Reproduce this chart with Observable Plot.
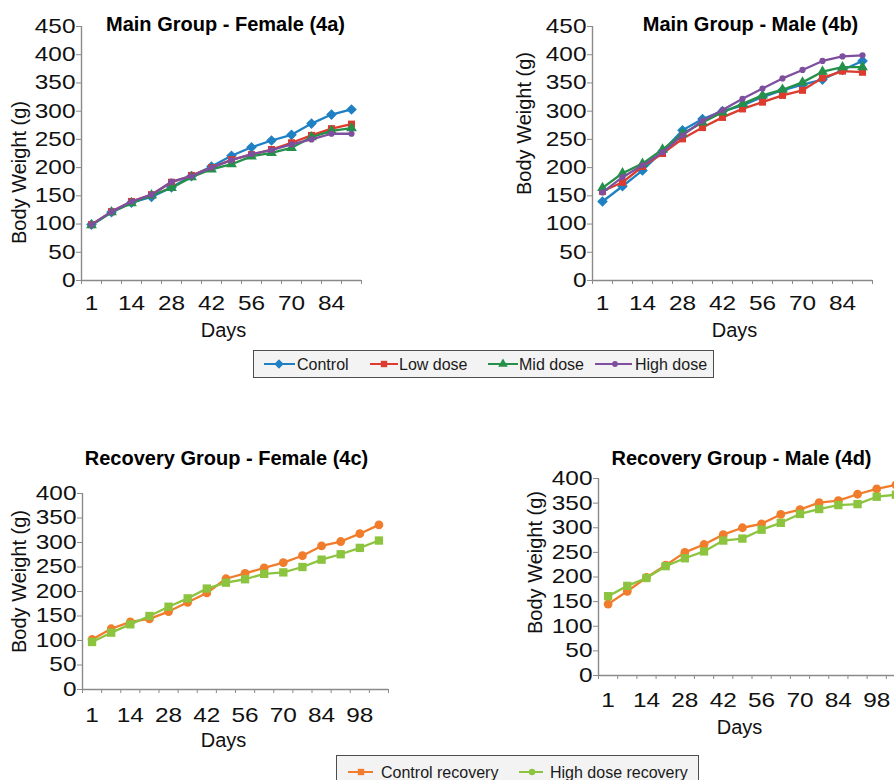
<!DOCTYPE html>
<html>
<head>
<meta charset="utf-8">
<script src="https://cdn.jsdelivr.net/npm/d3@7"></script>
<script src="https://cdn.jsdelivr.net/npm/@observablehq/plot@0.6"></script>
<style>
html, body { margin: 0; padding: 0; background: #fff; overflow: hidden; width: 894px; height: 780px; }
.panel { position: absolute; }
.panel svg { max-width: none !important; display: block; }
</style>
</head>
<body>
<div id="p4a" class="panel" style="left:0px;top:0px;width:447px;height:340px"></div>
<div id="p4b" class="panel" style="left:447px;top:0px;width:447px;height:340px"></div>
<div id="p4c" class="panel" style="left:0px;top:440px;width:447px;height:340px"></div>
<div id="p4d" class="panel" style="left:447px;top:440px;width:460px;height:340px"></div>
<div id="leg1" class="panel" style="left:253px;top:350px;"></div>
<div id="leg2" class="panel" style="left:336px;top:755px;"></div>
<script>
// ---------- data ----------
const mainDays = [1, 7, 14, 21, 28, 35, 42, 49, 56, 63, 70, 77, 84, 91];
const recoveryDays = [1, 7, 14, 21, 28, 35, 42, 49, 56, 63, 70, 77, 84, 91, 98, 105];

const mainSeries = ["Control", "Low dose", "Mid dose", "High dose"];
const recoverySeries = ["Control recovery", "High dose recovery"];

// Main group – female (4a)
const femaleControl = [99, 121, 138, 148, 165, 185, 202, 221, 236, 248, 258, 278, 294, 303];
const femaleLow     = [99, 122, 140, 152, 174, 186, 200, 214, 223, 232, 244, 257, 269, 277];
const femaleMid     = [98, 121, 137, 151, 164, 183, 197, 206, 220, 226, 235, 254, 265, 270];
const femaleHigh    = [99, 122, 140, 152, 175, 185, 200, 213, 224, 231, 241, 250, 260, 260];

// Main group – male (4b)
const maleControl = [140, 167, 195, 229, 266, 286, 300, 310, 325, 337, 347, 356, 373, 389];
const maleLow     = [158, 174, 202, 225, 251, 271, 289, 304, 316, 328, 337, 359, 371, 369];
const maleMid     = [164, 190, 207, 232, 260, 280, 298, 313, 328, 338, 351, 370, 378, 378];
const maleHigh    = [156, 183, 204, 227, 257, 283, 302, 322, 340, 358, 373, 389, 397, 399];

// Recovery group – female (4c)
const recFemaleControl = [102, 124, 138, 144, 159, 178, 197, 226, 237, 248, 259, 273, 293, 302, 318, 336];
const recFemaleHigh    = [97, 116, 133, 150, 169, 186, 206, 218, 225, 236, 239, 250, 265, 276, 289, 304];

// Recovery group – male (4d)
const recMaleControl = [145, 171, 199, 224, 250, 266, 286, 300, 308, 327, 337, 351, 355, 368, 379, 387];
const recMaleHigh    = [161, 182, 198, 222, 238, 252, 274, 278, 296, 310, 328, 338, 346, 348, 363, 367];

const yTicksMain = [0, 50, 100, 150, 200, 250, 300, 350, 400, 450];
const yTicksRecovery = [0, 50, 100, 150, 200, 250, 300, 350, 400];

// ---------- styles ----------
const FONT = "'Liberation Sans', Arial, Helvetica, sans-serif";
const AX = "#8a8a8a";
const mainColors = ["#1f80c4", "#dc3b2d", "#25904a", "#7e4f9e"];
const mainSymbols = ["diamond2", "square", "triangle", "circle"];
const mainRadii = [4.8, 4.0, 4.0, 3.1];
const recColors = ["#f07c2c", "#8cc43f"];
const recSymbols = ["circle", "square"];
const recRadii = [4.4, 4.7];

function stretchTickLabels(svg, s) {
  svg.querySelectorAll('g[aria-label$="tick label"] text').forEach(t => {
    const tr = t.getAttribute("transform");
    if (tr) t.setAttribute("transform", tr + ` scale(${s},1)`);
  });
}

function panel(el, o) {
  const n = o.days.length;
  const rows = [];
  o.series.forEach((s, k) => o.values[k].forEach((v, i) => rows.push({series: s, i, day: o.days[i], w: v})));
  const seriesMarks = [];
  o.series.forEach((s, k) => {
    const d = rows.filter(r => r.series === s);
    seriesMarks.push(Plot.line(d, {x: "i", y: "w", stroke: o.colors[k], strokeWidth: 2.3}));
    seriesMarks.push(Plot.dot(d, {x: "i", y: "w", symbol: o.symbols[k], fill: o.colors[k], stroke: "none", r: o.radii[k]}));
  });
  const chart = Plot.plot({
    width: o.width, height: o.height,
    marginTop: o.mt, marginBottom: o.mb, marginLeft: o.ml, marginRight: o.mr,
    style: {fontFamily: FONT, fontSize: "20px", color: "#111", background: "transparent", overflow: "visible"},
    x: {type: "linear", domain: [-0.5, n - 0.5], label: null},
    y: {domain: [0, o.ymax], label: null},
    marks: [
      Plot.ruleY([0], {stroke: AX, strokeWidth: 1.4}),
      Plot.ruleX([-0.5], {stroke: AX, strokeWidth: 1.4}),
      Plot.axisY(o.yticks, {tickSize: 5, tickPadding: 1, stroke: AX, fill: "#111", fontSize: 20, label: null}),
      Plot.axisX(d3.range(n + 1).map(i => i - 0.5), {tickSize: 4, stroke: AX, tickFormat: () => "", label: null}),
      Plot.axisX(d3.range(0, n, 2), {tickSize: 0, tickPadding: o.tickPad, tickFormat: i => o.days[i], fill: "#111", fontSize: 20, label: null}),
      ...seriesMarks,
      Plot.text([o.title], {frameAnchor: "top", textAnchor: "middle", lineAnchor: "middle", dx: o.titleDx, dy: o.titleDy, fontWeight: "bold", fontSize: 20, fill: "#000"}),
      Plot.text(["Body Weight (g)"], {frameAnchor: "left", textAnchor: "middle", lineAnchor: "middle", rotate: -90, dx: o.ylabDx, dy: o.ylabDy, fontSize: 20, fill: "#111"}),
      Plot.text(["Days"], {frameAnchor: "bottom", textAnchor: "middle", lineAnchor: "middle", dx: o.daysDx, dy: o.daysDy, fontSize: 20, fill: "#111"})
    ]
  });
  stretchTickLabels(chart, 1.22);
  document.getElementById(el).appendChild(chart);
}

panel("p4a", {
  days: mainDays, series: mainSeries, colors: mainColors, symbols: mainSymbols, radii: mainRadii,
  values: [femaleControl, femaleLow, femaleMid, femaleHigh], yticks: yTicksMain, ymax: 450,
  width: 447, height: 340, mt: 26, mb: 60, ml: 81, mr: 86, tickPad: 15,
  title: "Main Group - Female (4a)", titleDx: 4, titleDy: -2,
  ylabDx: -62, ylabDy: 19, daysDx: 2, daysDy: 50
});
panel("p4b", {
  days: mainDays, series: mainSeries, colors: mainColors, symbols: mainSymbols, radii: mainRadii,
  values: [maleControl, maleLow, maleMid, maleHigh], yticks: yTicksMain, ymax: 450,
  width: 447, height: 340, mt: 26, mb: 60, ml: 145, mr: 22, tickPad: 15,
  title: "Main Group - Male (4b)", titleDx: 18, titleDy: -2,
  ylabDx: -68, ylabDy: -30, daysDx: 2, daysDy: 50
});
panel("p4c", {
  days: recoveryDays, series: recoverySeries, colors: recColors, symbols: recSymbols, radii: recRadii,
  values: [recFemaleControl, recFemaleHigh], yticks: yTicksRecovery, ymax: 400,
  width: 447, height: 340, mt: 53, mb: 91, ml: 82, mr: 59, tickPad: 18,
  title: "Recovery Group - Female (4c)", titleDx: -9, titleDy: -35,
  ylabDx: -63, ylabDy: -10, daysDx: -12, daysDy: 51
});
panel("p4d", {
  days: recoveryDays, series: recoverySeries, colors: recColors, symbols: recSymbols, radii: recRadii,
  values: [recMaleControl, recMaleHigh], yticks: yTicksRecovery, ymax: 400,
  width: 460, height: 340, mt: 38, mb: 105, ml: 151, mr: 2, tickPad: 17,
  title: "Recovery Group - Male (4d)", titleDx: -10.5, titleDy: -20,
  ylabDx: -63, ylabDy: -14.5, daysDx: -12.5, daysDy: 52
});

// ---------- legends ----------
const symMap = {diamond2: d3.symbolDiamond2, square: d3.symbolSquare, triangle: d3.symbolTriangle, circle: d3.symbolCircle};
function legend(el, o) {
  const svg = d3.select(document.getElementById(el)).append("svg")
    .attr("width", o.width).attr("height", o.height)
    .style("font-family", FONT).style("overflow", "visible");
  svg.append("rect").attr("x", 0.5).attr("y", 0.5).attr("width", o.width - 1).attr("height", o.boxH)
    .attr("fill", "#f3f3f3").attr("stroke", "#4d4d4d").attr("stroke-width", 1);
  o.items.forEach(it => {
    const g = svg.append("g");
    g.append("line").attr("x1", it.l0).attr("x2", it.l1).attr("y1", o.cy).attr("y2", o.cy)
      .attr("stroke", it.color).attr("stroke-width", 2);
    g.append("path").attr("transform", `translate(${it.m},${o.cy})`)
      .attr("d", d3.symbol(symMap[it.symbol], Math.PI * it.r * it.r)()).attr("fill", it.color);
    g.append("text").attr("x", it.tx).attr("y", o.cy).attr("dy", "0.35em")
      .attr("font-size", 16).attr("fill", "#1a1a1a").text(it.label);
  });
}
legend("leg1", {
  width: 461, height: 28, boxH: 27, cy: 14,
  items: mainSeries.map((s, k) => ({
    label: s, color: mainColors[k], symbol: mainSymbols[k], r: [4.2, 3.6, 3.6, 2.9][k],
    l0: [11, 117, 235, 342][k], l1: [42, 145, 265, 379][k], m: [26, 131, 250, 362][k], tx: [44, 146, 266, 382][k]
  }))
});
// legend swatches as shown in the reference (square for control, circle for high dose)
legend("leg2", {
  width: 363, height: 30, boxH: 40, cy: 17,
  items: recoverySeries.map((s, k) => ({
    label: s, color: recColors[k], symbol: ["square", "circle"][k], r: [3.6, 3.2][k],
    l0: [12, 183][k], l1: [37, 207][k], m: [25, 196][k], tx: [45, 214][k]
  }))
});
</script>
</body>
</html>
